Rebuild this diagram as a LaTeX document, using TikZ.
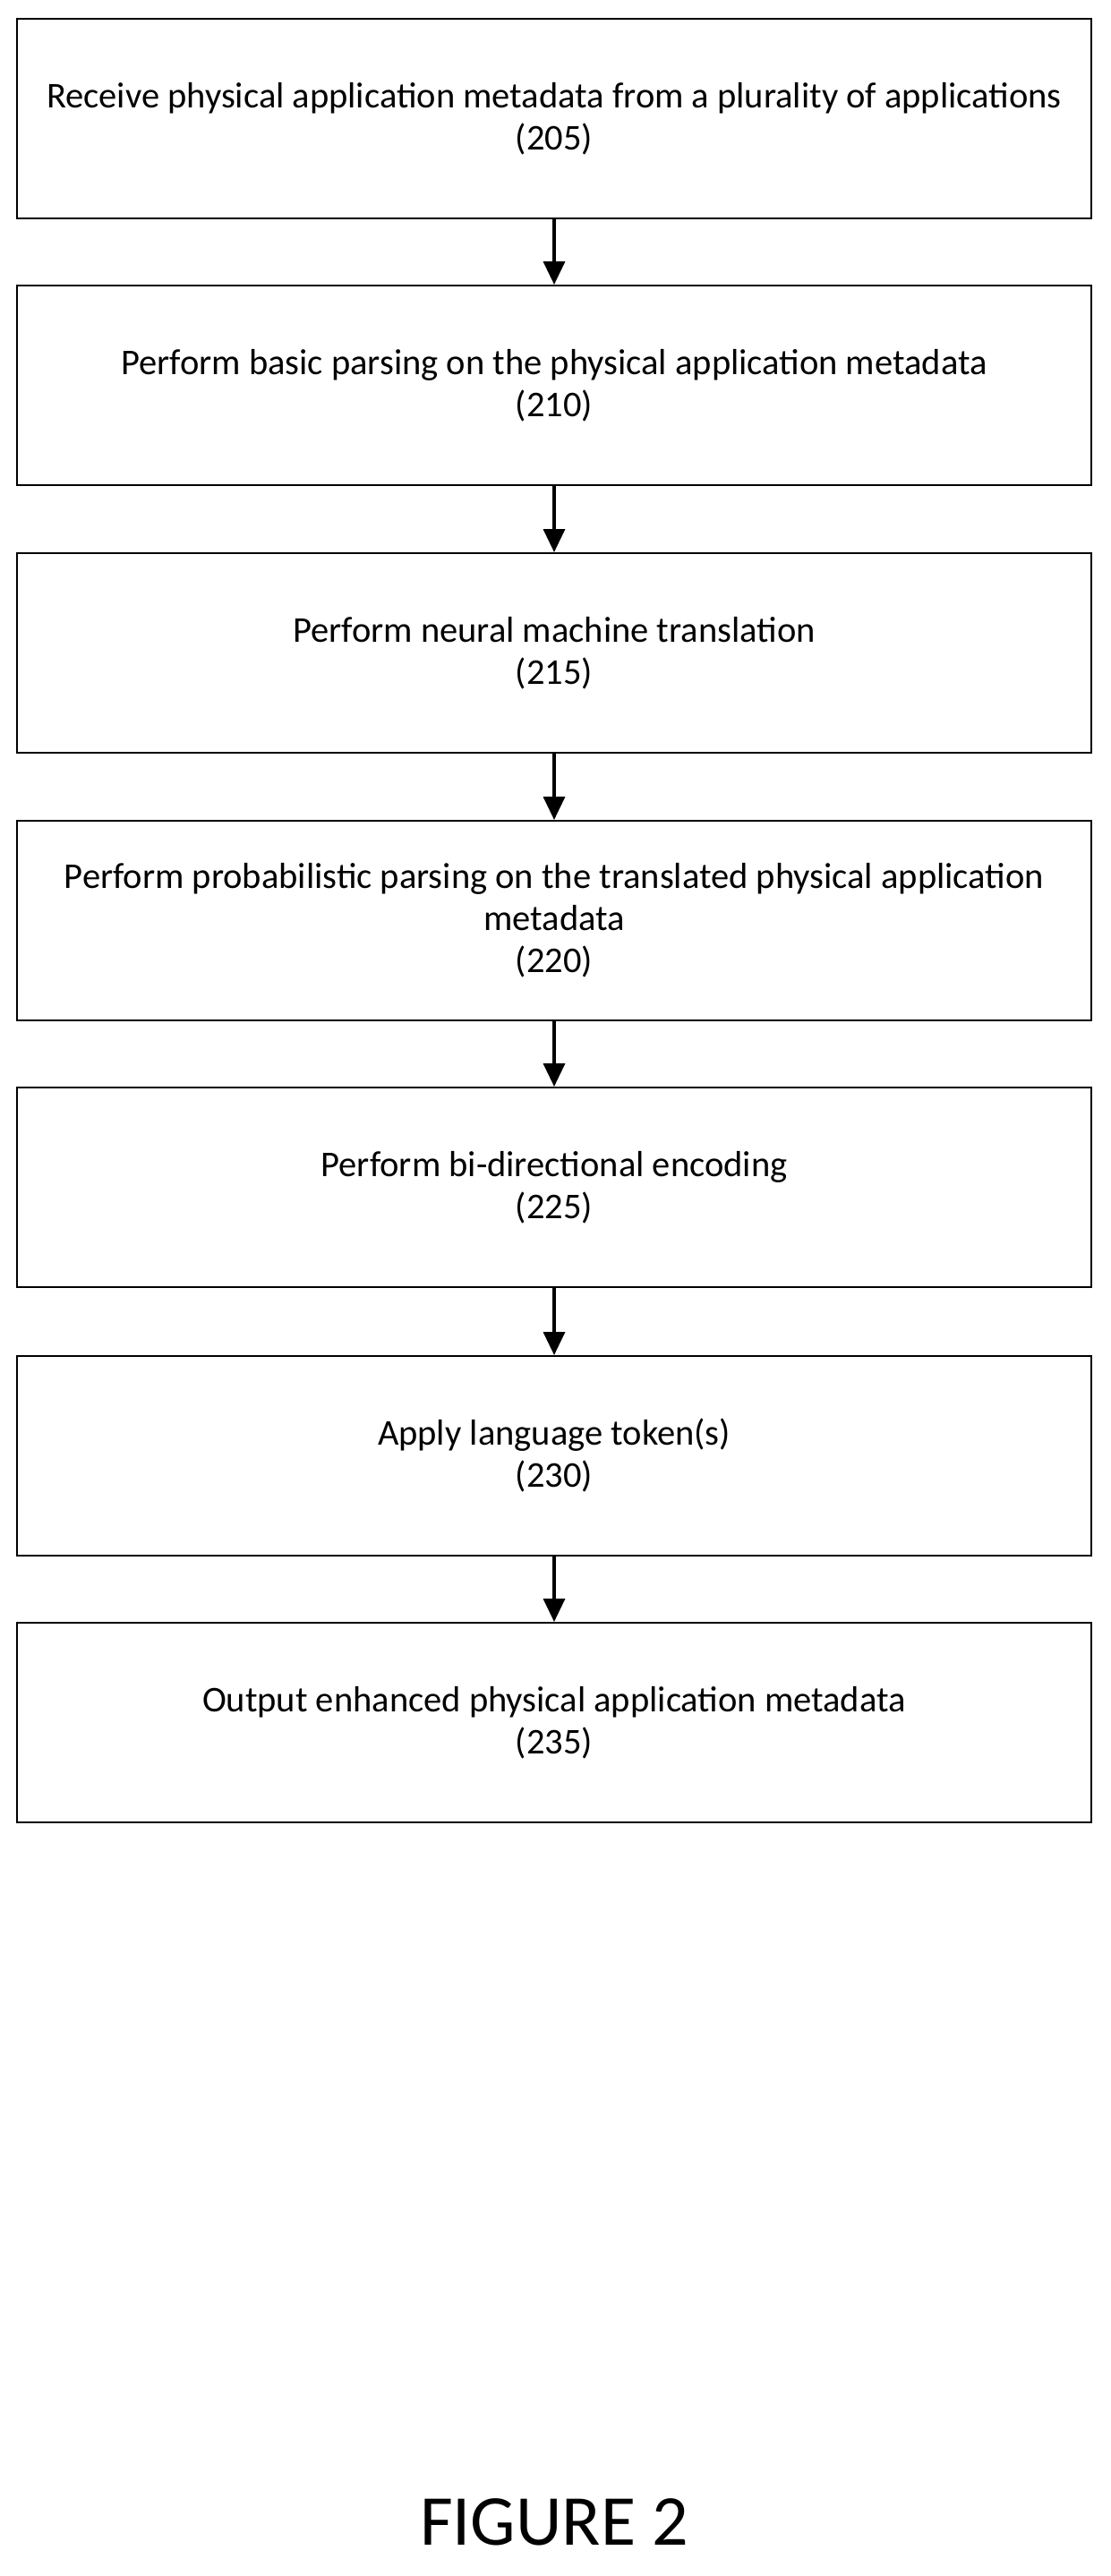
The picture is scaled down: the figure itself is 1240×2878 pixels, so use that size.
\documentclass[tikz,border=0pt]{standalone}
\usepackage{fontspec}
\setmainfont{Carlito}
\usetikzlibrary{arrows.meta}
\begin{document}
\begin{tikzpicture}[x=1pt,y=-1pt,
  stepbox/.style={draw,line width=1.5pt,minimum width=1200pt,minimum height=223pt,anchor=north,align=center,font=\fontsize{40.5}{47}\selectfont},
  arr/.style={-{Triangle[length=26pt,width=24pt]},line width=3.5pt}]
\useasboundingbox (0,0) rectangle (1240,2878);
\node[stepbox] (a) at (619,20) {Receive physical application metadata from a plurality of applications\\(205)};
\node[stepbox] (b) at (619,318) {Perform basic parsing on the physical application metadata\\(210)};
\node[stepbox] (c) at (619,617) {Perform neural machine translation\\(215)};
\node[stepbox] (d) at (619,916) {Perform probabilistic parsing on the translated physical application\\metadata\\(220)};
\node[stepbox] (e) at (619,1214) {Perform bi-directional encoding\\(225)};
\node[stepbox] (f) at (619,1514) {Apply language token(s)\\(230)};
\node[stepbox] (g) at (619,1812) {Output enhanced physical application metadata\\(235)};
\foreach \p/\q in {a/b,b/c,c/d,d/e,e/f,f/g} \draw[arr] (\p.south) -- (\q.north);
\node[font=\fontsize{80}{90}\selectfont] (t) at (619,2818) {FIGURE 2};
\end{tikzpicture}
\end{document}
